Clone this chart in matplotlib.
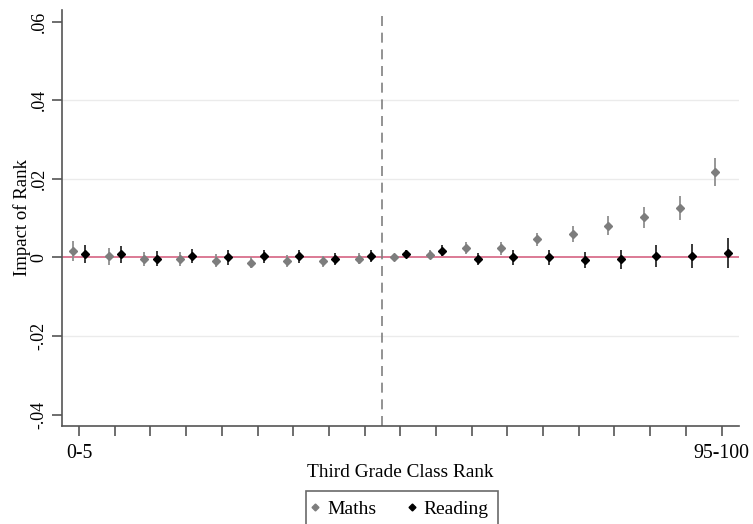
import numpy as np
import matplotlib
matplotlib.use("Agg")
import matplotlib.pyplot as plt
from matplotlib.lines import Line2D

# rank groups (19 groups, only ends labelled)
groups = np.arange(1, 20)
tick_labels = ["0-5"] + [""] * 17 + ["95-100"]

maths = [0.0016, 0.0003, -0.0004, -0.0004, -0.0008, -0.0014, -0.0009, -0.0010, -0.0003,
         0.0000, 0.0007, 0.0025, 0.0023, 0.0046, 0.0060, 0.0081, 0.0102, 0.0126, 0.0217]
maths_ci = [0.0025, 0.0021, 0.0018, 0.0018, 0.0017, 0.0014, 0.0015, 0.0015, 0.0014,
            0.0010, 0.0011, 0.0015, 0.0016, 0.0017, 0.0020, 0.0024, 0.0026, 0.0030, 0.0035]

reading = [0.0009, 0.0008, -0.0003, 0.0004, 0.0000, 0.0003, 0.0003, -0.0004, 0.0004,
           0.0009, 0.0017, -0.0003, 0.0000, 0.0000, -0.0006, -0.0005, 0.0004, 0.0003, 0.0012]
reading_ci = [0.0024, 0.0022, 0.0019, 0.0018, 0.0018, 0.0017, 0.0017, 0.0016, 0.0015,
              0.0011, 0.0014, 0.0015, 0.0018, 0.0020, 0.0021, 0.0025, 0.0028, 0.0031, 0.0038]

plt.rcParams['font.family'] = ['Liberation Serif', 'DejaVu Serif']

fig = plt.figure(figsize=(7.53, 5.24), dpi=100)
ax = fig.add_axes([0.0823, 0.187, 0.8987, 0.794])

off = 0.17
ax.axhline(0, color='#d9708c', lw=1.3, zorder=1)
ax.axvline(9.5, color='#808080', lw=1.2, ls=(0, (6, 4)), zorder=1)

ax.errorbar(groups - off, maths, yerr=maths_ci, fmt='D', color='#7d7d7d',
            ecolor='#8f8f8f', elinewidth=1.3, ms=4.5, capsize=0, zorder=3)
ax.errorbar(groups + off, reading, yerr=reading_ci, fmt='D', color='black',
            ecolor='#2a2a2a', elinewidth=1.3, ms=4.5, capsize=0, zorder=4)

ax.set_xlim(0.52, 19.48)
ax.set_ylim(-0.0429, 0.063)
ax.set_xticks(groups)
ax.set_xticklabels(tick_labels, fontsize=14.3)

yt = [-0.04, -0.02, 0, 0.02, 0.04, 0.06]
ax.set_yticks(yt)
ax.set_yticklabels(['-.04', '-.02', '0', '.02', '.04', '.06'], fontsize=13,
                   rotation=90, va='center')
for y in [-0.02, 0.02, 0.04]:
    ax.axhline(y, color='#ebebeb', lw=1.0, zorder=0)

for s in ['top', 'right']:
    ax.spines[s].set_visible(False)
for s in ['left', 'bottom']:
    ax.spines[s].set_color('#555555')
    ax.spines[s].set_linewidth(1.2)
ax.tick_params(axis='both', colors='#555555', length=7, width=1.2, labelcolor='black')
ax.tick_params(axis='x', pad=6)

ax.set_xlabel('Third Grade Class Rank', fontsize=13.9, labelpad=1)
ax.set_ylabel('Impact of Rank', fontsize=13.5, labelpad=0)
ax.yaxis.set_label_coords(-0.046, 0.5)

handles = [Line2D([], [], ls='none', marker='D', ms=3.5, color='#7d7d7d'),
           Line2D([], [], ls='none', marker='D', ms=3.5, color='black')]
leg = fig.legend(handles, ['Maths', 'Reading'], loc='upper center',
                 bbox_to_anchor=(0.534, 0.0635), ncol=2,
                 fontsize=14, frameon=True, fancybox=False, edgecolor='#444444',
                 handlelength=0.0, handletextpad=0.62, columnspacing=1.8,
                 borderpad=0.5, borderaxespad=0)
leg.get_frame().set_linewidth(1.2)

fig.savefig('out.png', dpi=100)
